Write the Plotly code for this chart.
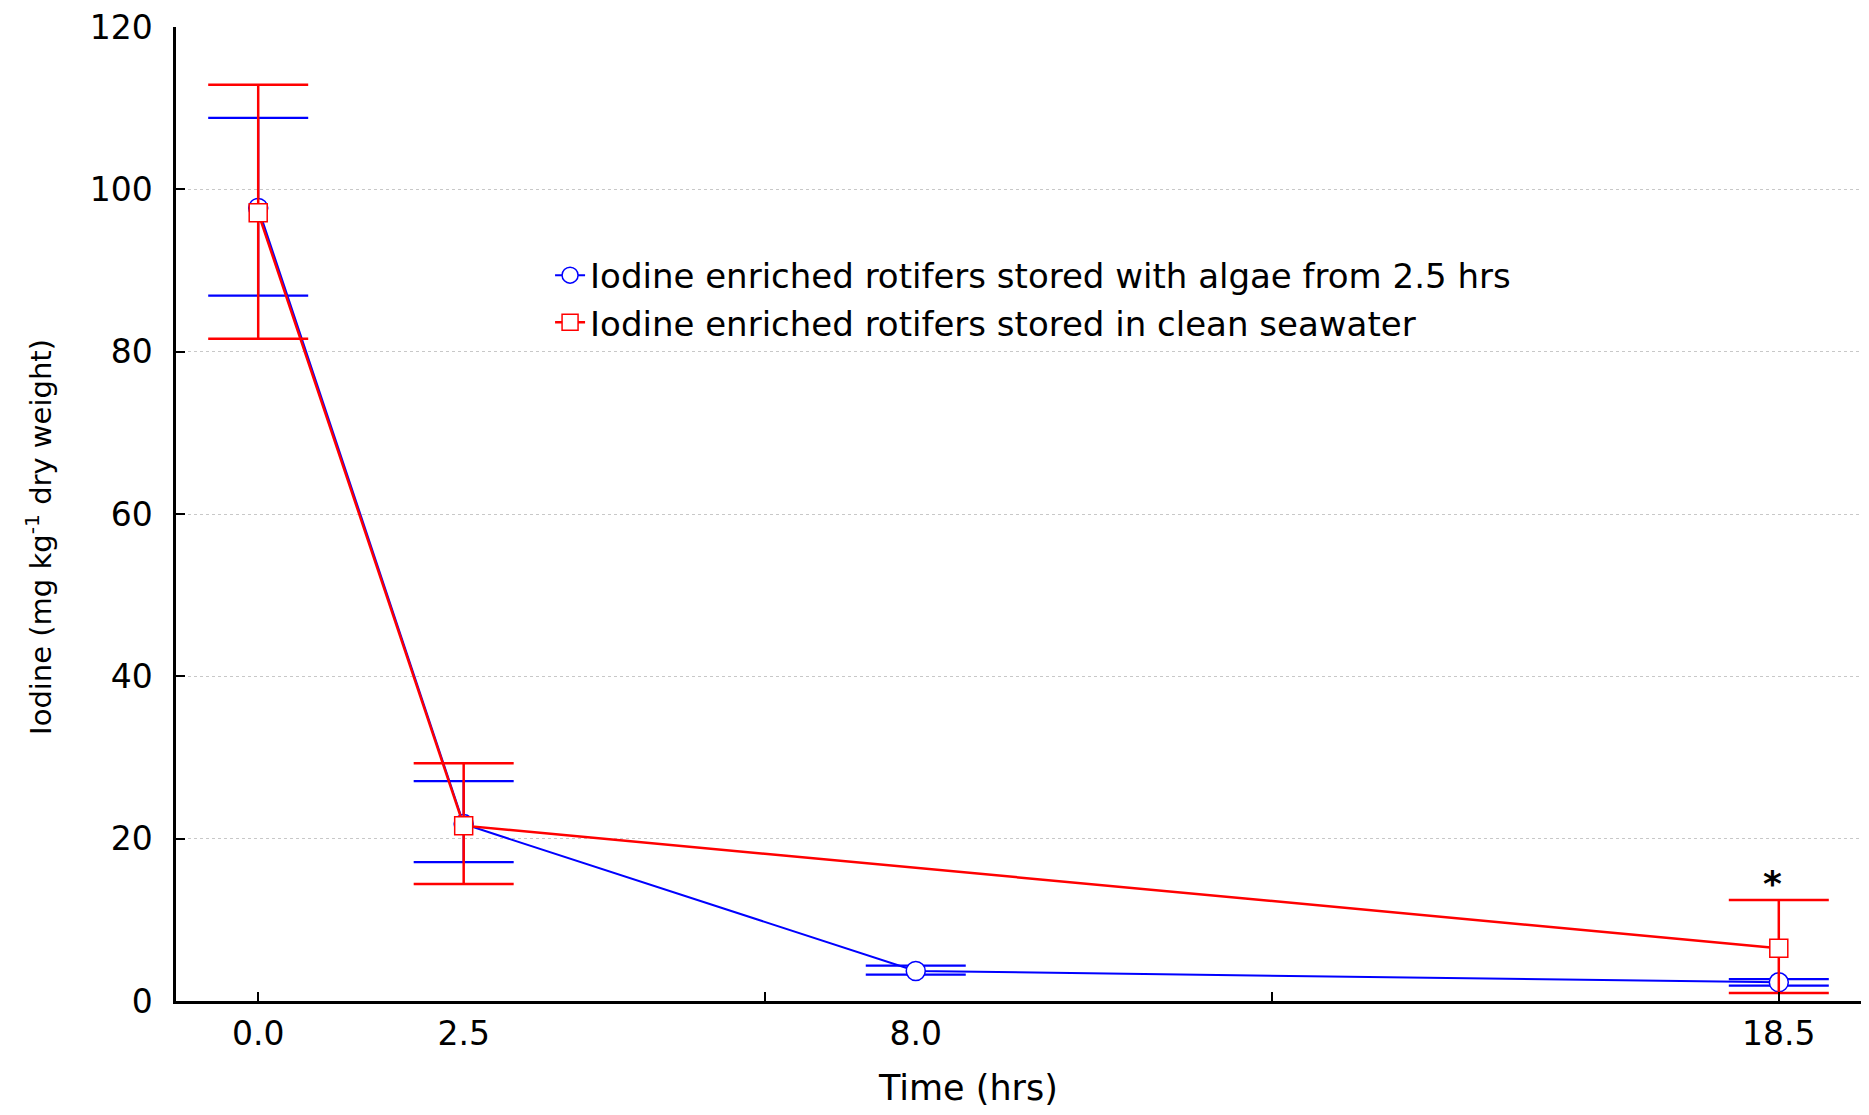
import plotly.graph_objects as go

# ---- data ----
blue_name = "Iodine enriched rotifers stored with algae from 2.5 hrs"
red_name = "Iodine enriched rotifers stored in clean seawater"

blue_time = [0.0, 2.5, 8.0, 18.5]
blue_mean = [97.7, 21.8, 3.7, 2.3]
blue_upper = [108.8, 27.1, 4.35, 2.7]
blue_lower = [86.9, 17.1, 3.25, 1.9]

red_time = [0.0, 2.5, 18.5]
red_mean = [97.1, 21.6, 6.5]
red_upper = [112.9, 29.3, 12.45]
red_lower = [81.6, 14.4, 1.0]

x_tick_labels_at = [0.0, 2.5, 8.0, 18.5]
x_tick_labels = ["0.0", "2.5", "8.0", "18.5"]
x_tick_marks = [0.0, 6.1667, 12.3333, 18.5]
y_ticks = [0, 20, 40, 60, 80, 100, 120]

star_x = 18.5
star_y = 15.2

FONT = "DejaVu Sans"

fig = go.Figure()

fig.add_trace(go.Scatter(
    x=blue_time, y=blue_mean, name=blue_name, mode="lines+markers",
    line=dict(color="#0000ff", width=2),
    marker=dict(symbol="circle", size=19, color="white",
                line=dict(color="#0000ff", width=1.5)),
    error_y=dict(type="data", symmetric=False,
                 array=[u - m for u, m in zip(blue_upper, blue_mean)],
                 arrayminus=[m - l for m, l in zip(blue_mean, blue_lower)],
                 color="#0000ff", thickness=2.2, width=50),
))

fig.add_trace(go.Scatter(
    x=red_time, y=red_mean, name=red_name, mode="lines+markers",
    line=dict(color="#ff0000", width=2.5),
    marker=dict(symbol="square", size=18, color="white",
                line=dict(color="#ff0000", width=1.5)),
    error_y=dict(type="data", symmetric=False,
                 array=[u - m for u, m in zip(red_upper, red_mean)],
                 arrayminus=[m - l for m, l in zip(red_mean, red_lower)],
                 color="#ff0000", thickness=2.5, width=50),
))

fig.add_annotation(x=star_x, y=star_y, text="<b>*</b>", showarrow=False,
                   font=dict(family=FONT, size=36, color="black"),
                   xanchor="center", yanchor="middle", xshift=-6, yshift=-6)

# axis titles as annotations
fig.add_annotation(xref="paper", yref="paper", x=-0.081, y=0.476,
                   text="Iodine (mg kg<sup>-1</sup> dry weight)", textangle=-90,
                   showarrow=False, xanchor="center", yanchor="middle",
                   font=dict(family=FONT, size=29, color="black"))
fig.add_annotation(xref="paper", yref="paper", x=0.47, y=-0.089,
                   text="Time (hrs)", showarrow=False,
                   xanchor="center", yanchor="middle",
                   font=dict(family=FONT, size=35, color="black"))

fig.update_layout(
    width=1853, height=1099,
    margin=dict(l=168, r=0, t=17, b=106),
    paper_bgcolor="white", plot_bgcolor="white",
    font=dict(family=FONT, size=33, color="black"),
    showlegend=True,
    legend=dict(x=0.222, y=0.7746, xanchor="left", yanchor="top",
                bgcolor="rgba(0,0,0,0)", font=dict(family=FONT, size=34),
                tracegroupgap=0, itemwidth=30),
    xaxis=dict(range=[-1, 19.5], tickmode="array", tickvals=x_tick_labels_at,
               ticktext=x_tick_labels, ticks="", showgrid=False, zeroline=False,
               showline=True, linecolor="black", linewidth=2.5,
               ticklabelstandoff=2, ticklabeloverflow="allow",
               minor=dict(tickmode="array", tickvals=x_tick_marks, ticks="inside",
                          ticklen=9, tickwidth=2, tickcolor="black", showgrid=False)),
    yaxis=dict(range=[0, 120], tickmode="array", tickvals=y_ticks,
               ticks="inside", ticklen=9, tickwidth=2, tickcolor="black",
               showline=True, linecolor="black", linewidth=2.5, zeroline=False,
               showgrid=True, gridcolor="#c8c8c8", gridwidth=1, griddash="dot",
               ticklabelstandoff=14, ticklabeloverflow="allow"),
)

fig.write_html("out.html")
